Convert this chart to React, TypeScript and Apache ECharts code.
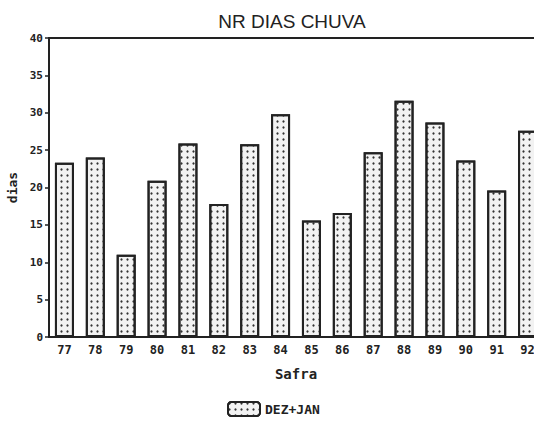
import React, { useEffect, useRef } from "react";
import * as echarts from "echarts";

const categories = ["77", "78", "79", "80", "81", "82", "83", "84", "85", "86", "87", "88", "89", "90", "91", "92"];
const dezJan = [23.3, 24.0, 11.0, 20.9, 25.9, 17.8, 25.8, 29.8, 15.6, 16.6, 24.7, 31.6, 28.7, 23.6, 19.6, 27.6];
const yTicks = [0, 5, 10, 15, 20, 25, 30, 35, 40];

export default function App() {
  const ref = useRef<HTMLDivElement>(null);
  useEffect(() => {
    if (!ref.current) return;
    const chart = echarts.init(ref.current, null, { renderer: "svg" });
    const ink = "#222";
    chart.setOption({
      animation: false,
      backgroundColor: "#fff",
      title: {
        text: "NR DIAS CHUVA",
        left: 287,
        top: 7,
        textAlign: "center",
        textStyle: { fontFamily: "Liberation Sans", fontSize: 19, fontWeight: "normal", color: ink },
      },
      legend: {
        data: ["DEZ+JAN"],
        left: 222,
        top: 396,
        itemWidth: 32,
        itemHeight: 14,
        itemGap: 8,
        textStyle: { fontFamily: "DejaVu Sans Mono", fontWeight: "bold", fontSize: 13, color: ink },
      },
      grid: { left: 49, width: 494, top: 38, height: 299, containLabel: false, outerBoundsMode: "none" },
      xAxis: [
        {
          type: "category",
          data: categories,
          name: "Safra",
          nameLocation: "middle",
          nameGap: 30,
          nameTextStyle: { fontFamily: "DejaVu Sans Mono", fontWeight: "bold", fontSize: 14, color: ink },
          axisLine: { lineStyle: { color: ink, width: 2 } },
          axisTick: { alignWithLabel: true, length: 4, lineStyle: { color: ink, width: 2 } },
          axisLabel: { fontFamily: "DejaVu Sans Mono", fontWeight: "bold", fontSize: 12, color: ink, margin: 7 },
        },
        {
          type: "category",
          data: categories,
          position: "top",
          axisLine: { show: true, lineStyle: { color: ink, width: 2 } },
          axisTick: { show: false },
          axisLabel: { show: false },
        },
      ],
      yAxis: {
        type: "value",
        min: yTicks[0],
        max: yTicks[yTicks.length - 1],
        interval: 5,
        name: "dias",
        nameLocation: "middle",
        nameGap: 29,
        nameTextStyle: { fontFamily: "DejaVu Sans Mono", fontWeight: "bold", fontSize: 13, color: ink },
        axisLine: { show: true, lineStyle: { color: ink, width: 2 } },
        axisTick: { show: true, length: 4, lineStyle: { color: ink, width: 1.5 } },
        splitLine: { show: false },
        axisLabel: { fontFamily: "DejaVu Sans Mono", fontWeight: "bold", fontSize: 11, color: ink, margin: 6 },
      },
      series: [
        {
          name: "DEZ+JAN",
          type: "bar",
          data: dezJan,
          barWidth: 19,
          itemStyle: {
            color: "#f2f2f2",
            borderColor: ink,
            borderWidth: 2,
            decal: {
              symbol: "circle",
              symbolSize: 0.75,
              color: "#333",
              dashArrayX: 3,
              dashArrayY: 3,
              rotation: 0,
            },
          },
        },
      ],
    });
    return () => chart.dispose();
  }, []);
  return <div ref={ref} style={{ position: "fixed", left: 0, top: 0, width: 534, height: 421 }} />;
}
